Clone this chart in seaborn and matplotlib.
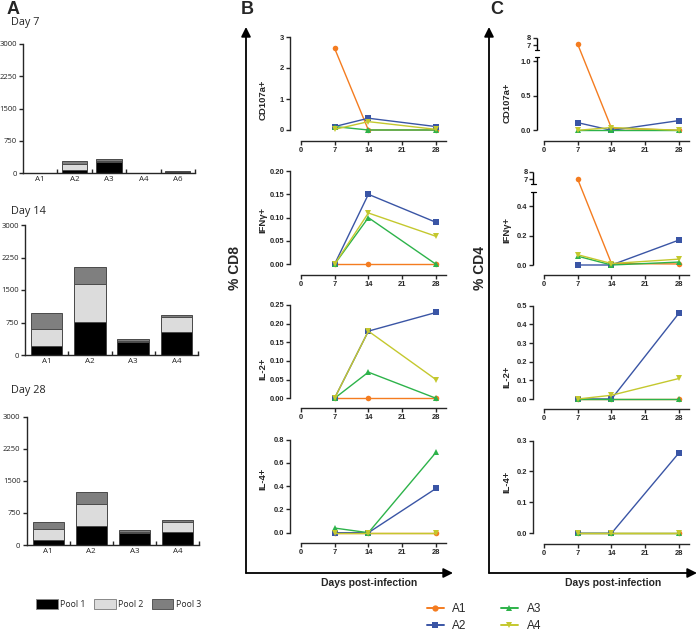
import numpy as np
import pandas as pd
import matplotlib
matplotlib.use("Agg")
import matplotlib.pyplot as plt
import matplotlib.transforms as mtrans
from matplotlib.lines import Line2D
from matplotlib.patches import Patch, FancyArrowPatch
import seaborn as sns

# ---------------- data ----------------
days = [7, 14, 28]
groups = ["A1", "A2", "A3", "A4"]

cats_d7 = ["A1", "A2", "A3", "A4", "A6"]
pool1_d7 = [0, 80, 250, 0, 25]
pool2_d7 = [0, 140, 25, 0, 5]
pool3_d7 = [0, 60, 40, 0, 10]

cats_d14 = ["A1", "A2", "A3", "A4"]
pool1_d14 = [210, 770, 300, 540]
pool2_d14 = [380, 860, 15, 345]
pool3_d14 = [370, 390, 65, 40]

cats_d28 = ["A1", "A2", "A3", "A4"]
pool1_d28 = [115, 450, 290, 310]
pool2_d28 = [250, 500, 10, 235]
pool3_d28 = [180, 280, 50, 40]

# rows: A1, A2, A3, A4 ; columns: day 7, 14, 28
cd8_cd107a = [[2.64, 0, 0], [0.11, 0.38, 0.11], [0.11, 0, 0], [0.02, 0.27, 0.02]]
cd8_ifng = [[0, 0, 0], [0, 0.15, 0.09], [0, 0.10, 0], [0, 0.11, 0.06]]
cd8_il2 = [[0, 0, 0], [0, 0.18, 0.23], [0, 0.07, 0], [0, 0.18, 0.05]]
cd8_il4 = [[0, 0, 0], [0, 0, 0.38], [0.04, 0, 0.69], [0, 0, 0]]

cd4_cd107a = [[7.1, 0.03, 0], [0.11, 0, 0.14], [0, 0, 0], [0, 0.04, 0]]
cd4_ifng = [[7.0, 0.01, 0.007], [0, 0, 0.17], [0.06, 0, 0.02], [0.07, 0.01, 0.04]]
cd4_il2 = [[0, 0, 0], [0, 0, 0.46], [0, 0, 0], [0, 0.02, 0.11]]
cd4_il4 = [[0, 0, 0], [0, 0, 0.26], [0, 0, 0], [0, 0, 0]]

xticks_days = [0, 7, 14, 21, 28]
bar_yticks = [0, 750, 1500, 2250, 3000]

# ---------------- style ----------------
sns.set_style("ticks")
plt.rcParams["font.family"] = ["Liberation Sans", "DejaVu Sans"]
plt.rcParams["axes.linewidth"] = 1.0

W, H = 700, 636
fig = plt.figure(figsize=(W / 100, H / 100), dpi=100)


def rect(l, t, r, b):
    return [l / W, 1 - b / H, (r - l) / W, (b - t) / H]


colors = {"A1": "#F47C20", "A2": "#3A55A5", "A3": "#2DB34A", "A4": "#C4C82E"}
markers = {"A1": "o", "A2": "s", "A3": "^", "A4": "v"}
c_p1, c_p2, c_p3 = "#000000", "#DCDCDC", "#7F7F7F"
edge = "#4a4a4a"
fa = ["Open Sans", "DejaVu Sans"]

# ---------------- panel A: stacked bars ----------------
bar_sets = [
    (cats_d7, pool1_d7, pool2_d7, pool3_d7, (23, 44, 195, 173), "Day 7", 23),
    (cats_d14, pool1_d14, pool2_d14, pool3_d14, (25, 225, 198, 355), "Day 14", 212),
    (cats_d28, pool1_d28, pool2_d28, pool3_d28, (26.7, 416.7, 199, 545), "Day 28", 390),
]
for cats, p1, p2, p3, box, title, ty in bar_sets:
    ax = fig.add_axes(rect(*box))
    p1 = np.array(p1); p2 = np.array(p2); p3 = np.array(p3)
    for vals, col in [(p1 + p2 + p3, c_p3), (p1 + p2, c_p2), (p1, c_p1)]:
        sns.barplot(x=cats, y=vals, color=col, saturation=1, width=0.73,
                    edgecolor=edge, linewidth=0.7, errorbar=None, ax=ax)
    n = len(cats)
    ax.set_xlim(-0.5, n - 0.5)
    ax.set_ylim(0, 3000)
    ax.set_yticks(bar_yticks)
    ax.set_yticklabels([str(v) for v in bar_yticks], family=fa)
    ax.set_xticks(range(n))
    ax.set_xticklabels(cats, family=fa)
    ax.set_xticks(np.arange(1, n + 1) - 0.5, minor=True)
    ax.tick_params(axis="x", which="major", length=0, labelsize=5.8, pad=2, colors="#222")
    ax.tick_params(axis="x", which="minor", direction="in", length=3, width=1)
    ax.tick_params(axis="y", length=3, width=1, labelsize=5.5, pad=1.5, labelcolor="#222")
    ax.set_xlabel(""); ax.set_ylabel("")
    for s in ["top", "right"]:
        ax.spines[s].set_visible(False)
    ax.patch.set_alpha(0)
    fig.text(11 / W, 1 - ty / H, title, family=fa, fontsize=7.8, va="center", ha="left")

fig.text(13 / W, 1 - 10 / H, "A", fontsize=13, fontweight="bold", va="center", ha="center")

fig.legend(handles=[Patch(facecolor=c_p1, edgecolor="#888", lw=0.7, label="Pool 1"),
                    Patch(facecolor=c_p2, edgecolor="#888", lw=0.7, label="Pool 2"),
                    Patch(facecolor=c_p3, edgecolor="#555", lw=0.7, label="Pool 3")],
           loc="upper left", bbox_to_anchor=(36 / W, 1 - 599 / H), ncol=3, frameon=False,
           prop={"family": fa, "size": 6.3}, handlelength=2.5, handleheight=1.45,
           handletextpad=0.3, columnspacing=0.9, borderpad=0, borderaxespad=0)


# ---------------- panels B, C: lines ----------------
def draw_lines(ax, arr):
    df = pd.DataFrame({"day": np.tile(days, len(groups)),
                       "value": np.ravel(arr),
                       "group": np.repeat(groups, len(days))})
    sns.lineplot(data=df, x="day", y="value", hue="group", style="group",
                 hue_order=groups, style_order=groups, palette=colors,
                 markers=markers, dashes=False, markersize=4, linewidth=1.0,
                 markeredgewidth=0, errorbar=None, legend=False, sort=False,
                 ax=ax, clip_on=False)
    ax.set_xlabel(""); ax.set_ylabel("")


def style_line_axes(ax, yticks, ylabels, ymax=None):
    ax.set_xticks(xticks_days)
    ax.set_xticklabels([str(d) for d in xticks_days], fontweight="bold")
    ax.set_yticks(yticks)
    ax.set_yticklabels(ylabels, fontweight="bold")
    ax.tick_params(length=3, width=1, labelsize=5.4, pad=1.2)
    for s in ["top", "right"]:
        ax.spines[s].set_visible(False)
    ax.spines["bottom"].set_bounds(0, 30)
    if ymax is not None:
        ax.spines["left"].set_bounds(0, ymax)
    ax.patch.set_alpha(0)


def line_axes(left_px, x0_px, right_px, top_px, y0_px, xaxis_px, ymax):
    ax = fig.add_axes(rect(left_px, top_px, right_px, xaxis_px))
    ppd = (right_px - x0_px) / 30.0
    ax.set_xlim(-(x0_px - left_px) / ppd, 30)
    ax._ylim_target = (-ymax * (xaxis_px - y0_px) / (y0_px - top_px), ymax)
    return ax


# Panel B (CD8)
b_specs = [
    (cd8_cd107a, 37, 130, 141, 3.0, [0, 1, 2, 3], ["0", "1", "2", "3"], "CD107a+", 100),
    (cd8_ifng, 171, 264.3, 275, 0.20, [0, 0.05, 0.10, 0.15, 0.20],
     ["0.00", "0.05", "0.10", "0.15", "0.20"], "IFNγ+", 220),
    (cd8_il2, 305, 398.3, 408, 0.25, [0, 0.05, 0.10, 0.15, 0.20, 0.25],
     ["0.00", "0.05", "0.10", "0.15", "0.20", "0.25"], "IL-2+", 369),
    (cd8_il4, 439.5, 532.7, 542.7, 0.8, [0, 0.2, 0.4, 0.6, 0.8],
     ["0.0", "0.2", "0.4", "0.6", "0.8"], "IL-4+", 479),
]
for arr, top, y0, xa, ymax, yt, yl, lab, ly in b_specs:
    ax = line_axes(290, 300.7, 445.7, top, y0, xa, ymax)
    draw_lines(ax, arr)
    ax.set_ylim(*ax._ylim_target)
    style_line_axes(ax, yt, yl, ymax)
    fig.text(263 / W, 1 - ly / H, lab, rotation=90, fontsize=6.8, fontweight="bold",
             ha="center", va="center")

# Panel C (CD4)
c_specs = [
    (cd4_il2, 305.7, 399, 409.3, 0.5, [0, 0.1, 0.2, 0.3, 0.4, 0.5],
     ["0.0", "0.1", "0.2", "0.3", "0.4", "0.5"], "IL-2+", 377),
    (cd4_il4, 440.5, 533.3, 544, 0.3, [0, 0.1, 0.2, 0.3],
     ["0.0", "0.1", "0.2", "0.3"], "IL-4+", 482),
]
for arr, top, y0, xa, ymax, yt, yl, lab, ly in c_specs:
    ax = line_axes(533.3, 544, 688.6, top, y0, xa, ymax)
    draw_lines(ax, arr)
    ax.set_ylim(*ax._ylim_target)
    style_line_axes(ax, yt, yl, ymax)
    fig.text(507 / W, 1 - ly / H, lab, rotation=90, fontsize=6.8, fontweight="bold",
             ha="center", va="center")

# broken-axis panels
broken_specs = [
    (cd4_cd107a, 536.7, 37.7, 140.7, 130.3, 69.3, 1.053, 6.32, 7.3,
     [0, 0.5, 1.0, 7, 8], ["0.0", "0.5", "1.0", "7", "8"], "CD107a+", 103),
    (cd4_ifng, 533.3, 171.7, 275, 265, 146.7, 0.496, 6.38, 7.6,
     [0, 0.2, 0.4, 7, 8], ["0.0", "0.2", "0.4", "7", "8"], "IFNγ+", 229.5),
]
for arr, lpx, tpx, xapx, zpx, klo, lo_top, hi_bot, khi, yt, yl, lab, ly in broken_specs:
    ax = fig.add_axes(rect(lpx, tpx, 688.6, xapx))
    ppd = (688.6 - 544) / 30.0
    ax.set_xlim(-(544 - lpx) / ppd, 30)
    t_lo = lo_top * klo
    t_hb = (zpx - tpx) - (8 - hi_bot) * khi
    kv = np.array([-50, 0, lo_top, hi_bot, 8, 100.0])
    kt = np.array([-50 * klo, 0, t_lo, t_hb, t_hb + (8 - hi_bot) * khi,
                   t_hb + (100 - hi_bot) * khi])
    fwd = (lambda kv, kt: (lambda y: np.interp(y, kv, kt)))(kv, kt)
    inv = (lambda kv, kt: (lambda t: np.interp(t, kt, kv)))(kv, kt)
    ax.set_yscale("function", functions=(fwd, inv))
    draw_lines(ax, arr)
    ybot = -(xapx - zpx) / klo
    ax.set_ylim(ybot, 8)
    style_line_axes(ax, yt, yl, None)
    ax.spines["left"].set_visible(False)
    tr = mtrans.blended_transform_factory(ax.transAxes, ax.transData)
    ax.plot([0, 0], [0, lo_top], transform=tr, color="k", lw=1.0, clip_on=False,
            solid_capstyle="butt")
    ax.plot([0, 0], [hi_bot, 8], transform=tr, color="k", lw=1.0, clip_on=False,
            solid_capstyle="butt")
    for yv in (lo_top, hi_bot):
        ax.plot([-0.012, 0.016], [yv, yv], transform=tr, color="k", lw=0.9, clip_on=False)
    fig.text(507 / W, 1 - ly / H, lab, rotation=90, fontsize=6.8, fontweight="bold",
             ha="center", va="center")

# big axis arrows and labels
for xv, xr in [(246, 453), (489, 697)]:
    for p0, p1 in [((xv, 573), (xv, 27)), ((xv, 573), (xr, 573))]:
        fig.add_artist(FancyArrowPatch((p0[0] / W, 1 - p0[1] / H), (p1[0] / W, 1 - p1[1] / H),
                                       transform=fig.transFigure, arrowstyle="-|>",
                                       mutation_scale=14, lw=1.3, color="k",
                                       shrinkA=0, shrinkB=0))

fig.text(247 / W, 1 - 10 / H, "B", fontsize=13, fontweight="bold", va="center", ha="center")
fig.text(497 / W, 1 - 10 / H, "C", fontsize=13, fontweight="bold", va="center", ha="center")
fig.text(235 / W, 1 - 268 / H, "% CD8", rotation=90, fontsize=10, fontweight="bold",
         ha="center", va="center")
fig.text(480 / W, 1 - 268 / H, "% CD4", rotation=90, fontsize=10, fontweight="bold",
         ha="center", va="center")
fig.text(368.8 / W, 1 - 583 / H, "Days post-infection", fontsize=7.5, fontweight="bold",
         ha="center", va="center")
fig.text(613 / W, 1 - 583 / H, "Days post-infection", fontsize=7.5, fontweight="bold",
         ha="center", va="center")

handles = [Line2D([], [], color=colors[g], marker=markers[g], markersize=4.5,
                  markeredgewidth=0, lw=1.4, label=g) for g in groups]
fig.legend(handles=handles, loc="upper left", bbox_to_anchor=(427 / W, 1 - 603 / H),
           ncol=2, frameon=False, prop={"size": 8.5}, handlelength=1.4,
           handletextpad=0.75, columnspacing=2.9, labelspacing=0.4,
           borderpad=0, borderaxespad=0)

fig.savefig("out.png", dpi=100)
